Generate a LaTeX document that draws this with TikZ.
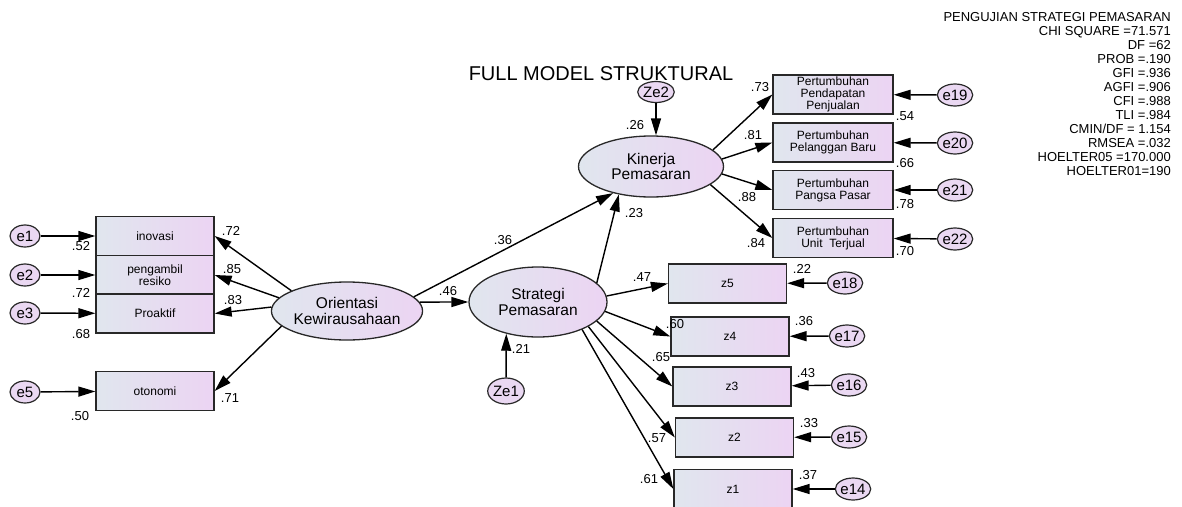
\documentclass[tikz,border=0pt]{standalone}
\usepackage{fontspec}
\setmainfont{Liberation Sans}
\usetikzlibrary{arrows.meta,shapes.geometric}
\definecolor{gl}{RGB}{224,230,238}
\definecolor{gr}{RGB}{236,212,243}
\definecolor{ef}{RGB}{234,216,242}
\definecolor{bd}{RGB}{40,40,40}
\begin{document}
\begin{tikzpicture}[x=1pt,y=-1pt,
  obs/.style={rectangle, draw=bd, line width=1.3pt, left color=gl, right color=gr, minimum width=118pt, minimum height=39pt, inner sep=0pt, align=center, font=\fontsize{12}{11.8}\selectfont},
  lat/.style={ellipse, draw=bd, line width=1.3pt, left color=gl, right color=gr, inner sep=0pt, align=center, font=\fontsize{15.5}{15.5}\selectfont},
  err/.style={ellipse, draw=bd, line width=1.2pt, fill=ef, minimum width=30pt, minimum height=22pt, inner sep=0pt, font=\fontsize{15}{15}\selectfont},
  arr/.style={-{Triangle[length=17pt,width=10pt]}, line width=1.4pt},
  lbl/.style={inner sep=0pt, font=\fontsize{13}{13}\selectfont}]
\useasboundingbox (0,0) rectangle (1182,506);

% title and fit statistics
\node[inner sep=0pt, font=\fontsize{20}{20}\selectfont] (title) at (601,74) {FULL MODEL STRUKTURAL};
\node[inner sep=0pt, anchor=north east, align=right, font=\fontsize{13}{14}\selectfont] (fit) at (1171,12.5)
 {PENGUJIAN STRATEGI PEMASARAN\\CHI SQUARE =71.571\\DF =62\\PROB =.190\\GFI =.936\\AGFI =.906\\CFI =.988\\TLI =.984\\CMIN/DF = 1.154\\RMSEA =.032\\HOELTER05 =170.000\\HOELTER01=190};

% left indicators
\node[obs] (x1) at (155,236) {inovasi};
\node[obs] (x2) at (155,275) {pengambil\\resiko};
\node[obs] (x3) at (155,313.5) {Proaktif};
\node[obs] (x5) at (155,391) {otonomi};
\node[err] (e1) at (25,236) {e1};
\node[err] (e2) at (25,275) {e2};
\node[err] (e3) at (25,313) {e3};
\node[err] (e5) at (25,392) {e5};

% latents
\node[lat, minimum width=145pt, minimum height=58pt] (OK) at (347,311) {Orientasi\\Kewirausahaan};
\node[lat, minimum width=138pt, minimum height=70pt] (SP) at (538,302) {Strategi\\Pemasaran};
\node[lat, minimum width=145pt, minimum height=61pt] (KP) at (651,166.5) {Kinerja\\Pemasaran};
\node[err, minimum width=27pt, minimum height=21pt] (Ze2) at (656,92) {Ze2};
\node[err, minimum width=31pt, minimum height=26pt] (Ze1) at (506,391) {Ze1};

% right indicators of Kinerja
\node[obs, minimum width=120pt] (y1) at (833,94.5) {Pertumbuhan\\Pendapatan\\Penjualan};
\node[obs, minimum width=120pt] (y2) at (833,142.5) {Pertumbuhan\\Pelanggan Baru};
\node[obs, minimum width=120pt] (y3) at (833,190) {Pertumbuhan\\Pangsa Pasar};
\node[obs, minimum width=120pt] (y4) at (833,238) {Pertumbuhan\\Unit~~Terjual};
\node[err] (e19) at (955,95) {e19};
\node[err] (e20) at (955,143) {e20};
\node[err] (e21) at (955,190) {e21};
\node[err] (e22) at (955,239) {e22};

% z indicators
\node[obs] (z5) at (727.5,283.5) {z5};
\node[obs] (z4) at (730,336.5) {z4};
\node[obs] (z3) at (732,386.5) {z3};
\node[obs] (z2) at (734.5,437.5) {z2};
\node[obs] (z1) at (733,489) {z1};
\node[err] (e18) at (845,283) {e18};
\node[err] (e17) at (847,336) {e17};
\node[err] (e16) at (849,385) {e16};
\node[err] (e15) at (849,437) {e15};
\node[err] (e14) at (853,489) {e14};

% connectors
\draw[arr] (e1) -- (x1);
\draw[arr] (e2) -- (x2);
\draw[arr] (e3) -- (x3);
\draw[arr] (e5) -- (x5);
\draw[arr] (OK.160) -- (x1.east);
\draw[arr] (OK.169) -- (x2.east);
\draw[arr] (OK.177) -- (x3.east);
\draw[arr] (OK.193) -- (x5.east);
\draw[arr] (OK.7) -- (SP.west);
\draw[arr] (OK.12) -- (KP.-145);
\draw[arr] (SP.18) -- (KP.-139);
\draw[arr] (Ze2) -- (Ze2 |- KP.north);
\draw[arr] (Ze1) -- (SP.-135);
\draw[arr] (KP.15) -- (y1.west);
\draw[arr] (KP.6) -- (y2.west);
\draw[arr] (KP.-6) -- (y3.west);
\draw[arr] (KP.-17) -- (y4.west);
\draw[arr] (e19) -- (y1);
\draw[arr] (e20) -- (y2);
\draw[arr] (e21) -- (y3);
\draw[arr] (e22) -- (y4);
\draw[arr] (SP.5) -- (z5.west);
\draw[arr] (SP.-8) -- (z4.west);
\draw[arr] (SP.-18) -- (z3.west);
\draw[arr] (SP.-26) -- (z2.west);
\draw[arr] (SP.-32) -- (z1.west);
\draw[arr] (e18) -- (z5);
\draw[arr] (e17) -- (z4);
\draw[arr] (e16) -- (z3);
\draw[arr] (e15) -- (z2);
\draw[arr] (e14) -- (z1);

% labels
\node[lbl] (l1) at (231,231) {.72};
\node[lbl] (l2) at (232,269) {.85};
\node[lbl] (l3) at (233,300) {.83};
\node[lbl] (l5) at (230,398) {.71};
\node[lbl] (r1) at (81,246) {.52};
\node[lbl] (r2) at (81,293) {.72};
\node[lbl] (r3) at (81,334) {.68};
\node[lbl] (r5) at (80,416) {.50};
\node[lbl] (lOS) at (448,291) {.46};
\node[lbl] (lOK) at (503,240) {.36};
\node[lbl] (lSK) at (634,213) {.23};
\node[lbl] (rK) at (635,125) {.26};
\node[lbl] (rS) at (521,349) {.21};
\node[lbl] (ly1) at (760,87) {.73};
\node[lbl] (ly2) at (753,135) {.81};
\node[lbl] (ly3) at (747,197) {.88};
\node[lbl] (ly4) at (756,243) {.84};
\node[lbl] (ry1) at (905,116) {.54};
\node[lbl] (ry2) at (905,163) {.66};
\node[lbl] (ry3) at (905,204) {.78};
\node[lbl] (ry4) at (905,251) {.70};
\node[lbl] (lz5) at (642,277.5) {.47};
\node[lbl] (lz4) at (675,324) {.60};
\node[lbl] (lz3) at (661,357) {.65};
\node[lbl] (lz2) at (657,438) {.57};
\node[lbl] (lz1) at (649,479) {.61};
\node[lbl] (rz5) at (802,269) {.22};
\node[lbl] (rz4) at (804,321) {.36};
\node[lbl] (rz3) at (806,373) {.43};
\node[lbl] (rz2) at (809,423) {.33};
\node[lbl] (rz1) at (808,475) {.37};
\end{tikzpicture}
\end{document}
